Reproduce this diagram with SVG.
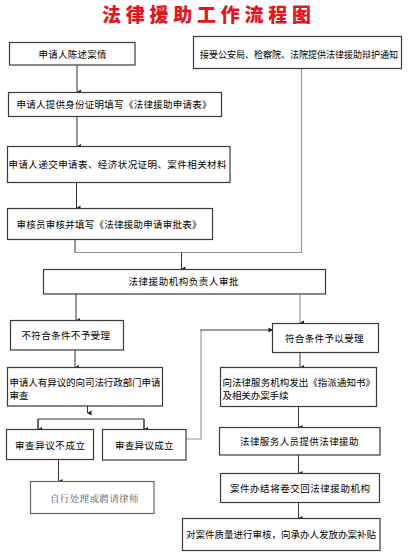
<svg xmlns="http://www.w3.org/2000/svg" width="409" height="560" viewBox="0 0 409 560">
<defs>
<marker id="ah" markerWidth="6" markerHeight="6" refX="3" refY="5" orient="auto-start-reverse" markerUnits="userSpaceOnUse" viewBox="0 0 6 6">
<path d="M0.5,1 L5.5,1 L3,5.5 Z" fill="#222"/>
</marker>
<marker id="ar" markerWidth="6" markerHeight="6" refX="5" refY="3" orient="0" markerUnits="userSpaceOnUse" viewBox="0 0 6 6">
<path d="M1,0.5 L1,5.5 L5.5,3 Z" fill="#222"/>
</marker>
</defs>
<style>
.box{fill:#fff;stroke:#3a3a3a;stroke-width:1.2}
.t{font-family:"Noto Sans CJK SC","Noto Sans",sans-serif;font-size:9.5px;fill:#000}
.ln{fill:none;stroke:#333;stroke-width:1}
.gl{fill:none;stroke:#999;stroke-width:1.2}
.title{font-family:"Noto Sans CJK SC",sans-serif;font-size:19px;font-weight:900;fill:#e8141b}
</style>
<text class="title" x="102" y="22" textLength="209" lengthAdjust="spacing">法律援助工作流程图</text>

<g id="connectors">
<line class="ln" x1="77" y1="65" x2="77" y2="92" marker-end="url(#ah)"/>
<line class="ln" x1="77" y1="117" x2="77" y2="146.5" marker-end="url(#ah)"/>
<line class="ln" x1="76.5" y1="183" x2="76.5" y2="208" marker-end="url(#ah)"/>
<polyline class="gl" points="301.5,68.5 301.5,252.5 75,252.5"/>
<line class="ln" x1="75" y1="240" x2="75" y2="252.5"/>
<line class="ln" x1="181.5" y1="252.5" x2="181.5" y2="269" marker-end="url(#ah)"/>
<line class="ln" x1="76" y1="294" x2="76" y2="320.5" marker-end="url(#ah)"/>
<line class="gl" x1="300" y1="294" x2="300" y2="323" marker-end="url(#ah)"/>
<line class="ln" x1="75" y1="350" x2="75" y2="367.5" marker-end="url(#ah)"/>
<line class="ln" x1="300" y1="352.5" x2="300" y2="367.5" marker-end="url(#ah)"/>
<line class="ln" x1="87.5" y1="406" x2="87.5" y2="413" marker-end="url(#ah)"/>
<polyline class="ln" points="38,429 38,419 144,419 144,429"/>
<line class="ln" x1="38" y1="419" x2="38" y2="429.5" marker-end="url(#ah)"/>
<line class="ln" x1="144" y1="419" x2="144" y2="429.5" marker-end="url(#ah)"/>
<polyline class="gl" points="186,439 201,439 201,330"/>
<line class="ln" x1="200.5" y1="330" x2="272.5" y2="330" marker-end="url(#ar)"/>
<line class="ln" x1="58.5" y1="459.5" x2="58.5" y2="481.5" marker-end="url(#ah)"/>
<line class="ln" x1="298.5" y1="407" x2="298.5" y2="427.5" marker-end="url(#ah)"/>
<line class="ln" x1="298.5" y1="455" x2="298.5" y2="473.5" marker-end="url(#ah)"/>
<line class="ln" x1="298.5" y1="503" x2="298.5" y2="518.5" marker-end="url(#ah)"/>
</g>

<g id="n1"><rect class="box" x="9.5" y="42.5" width="125.5" height="22.5"/><text class="t" x="38.5" y="57.5" textLength="68" lengthAdjust="spacing">申请人陈述案情</text></g>
<g id="n0"><rect class="box" x="193.5" y="36.5" width="208" height="32"/><text class="t" x="200" y="58" textLength="198" lengthAdjust="spacingAndGlyphs">接受公安局、检察院、法院提供法律援助辩护通知</text></g>
<g id="n2"><rect class="box" x="8.5" y="92.5" width="213" height="24"/><text class="t" x="16.5" y="107.8" textLength="195" lengthAdjust="spacing">申请人提供身份证明填写《法律援助申请表》</text></g>
<g id="n3"><rect class="box" x="7.5" y="146.5" width="222.5" height="36"/><text class="t" x="8.5" y="167.8" textLength="218" lengthAdjust="spacing">申请人递交申请表、经济状况证明、案件相关材料</text></g>
<g id="n4"><rect class="box" x="7.5" y="208.5" width="205" height="31"/><text class="t" x="16.5" y="227.8" textLength="185" lengthAdjust="spacing">审核员审核并填写《法律援助申请审批表》</text></g>
<g id="n5"><rect class="box" x="43.5" y="269.5" width="282" height="24.5"/><text class="t" x="128.5" y="285" textLength="110" lengthAdjust="spacing">法律援助机构负责人审批</text></g>
<g id="n6"><rect class="box" x="10.5" y="320.5" width="113" height="29.5"/><text class="t" x="21.5" y="338.5" textLength="88.5" lengthAdjust="spacing">不符合条件不予受理</text></g>
<g id="n7"><rect class="box" x="272.5" y="323.5" width="106" height="29"/><text class="t" x="285" y="341.8" textLength="78.5" lengthAdjust="spacing">符合条件予以受理</text></g>
<g id="n8"><rect class="box" x="7.5" y="367.5" width="155" height="38.5"/><text class="t" x="9.5" y="386" textLength="151" lengthAdjust="spacing">申请人有异议的向司法行政部门申请</text><text class="t" x="9.5" y="398.5">审查</text></g>
<g id="n9"><rect class="box" x="220.5" y="367.5" width="156" height="39"/><text class="t" x="222.5" y="386" textLength="152.5" lengthAdjust="spacing">向法律服务机构发出《指派通知书》</text><text class="t" x="222.5" y="398.5" textLength="66" lengthAdjust="spacing">及相关办案手续</text></g>
<g id="n10"><rect class="box" x="6.5" y="429.5" width="87" height="30"/><text class="t" x="15" y="449" textLength="70" lengthAdjust="spacing">审查异议不成立</text></g>
<g id="n11"><rect class="box" x="102.5" y="429.5" width="83.5" height="30.5"/><text class="t" x="115" y="449" textLength="58.5" lengthAdjust="spacing">审查异议成立</text></g>
<g id="n12"><rect class="box" x="30.5" y="481.5" width="123.5" height="32" style="stroke:#666"/><text x="50" y="501.5" textLength="88.5" lengthAdjust="spacing" style="font-family:'Noto Serif CJK SC','Noto Sans CJK SC',serif;font-size:9.5px;fill:#555">自行处理或聘请律师</text></g>
<g id="n13"><rect class="box" x="219.5" y="427.5" width="160.5" height="27.5"/><text class="t" x="240" y="444.8" textLength="118.5" lengthAdjust="spacing">法律服务人员提供法律援助</text></g>
<g id="n14"><rect class="box" x="220.5" y="473.5" width="159" height="29"/><text class="t" x="230" y="491.8" textLength="140" lengthAdjust="spacing">案件办结将卷交回法律援助机构</text></g>
<g id="n15"><rect class="box" x="182.5" y="518.5" width="197.5" height="32"/><text class="t" x="186" y="538.3" textLength="190" lengthAdjust="spacing">对案件质量进行审核，向承办人发放办案补贴</text></g>
</svg>
